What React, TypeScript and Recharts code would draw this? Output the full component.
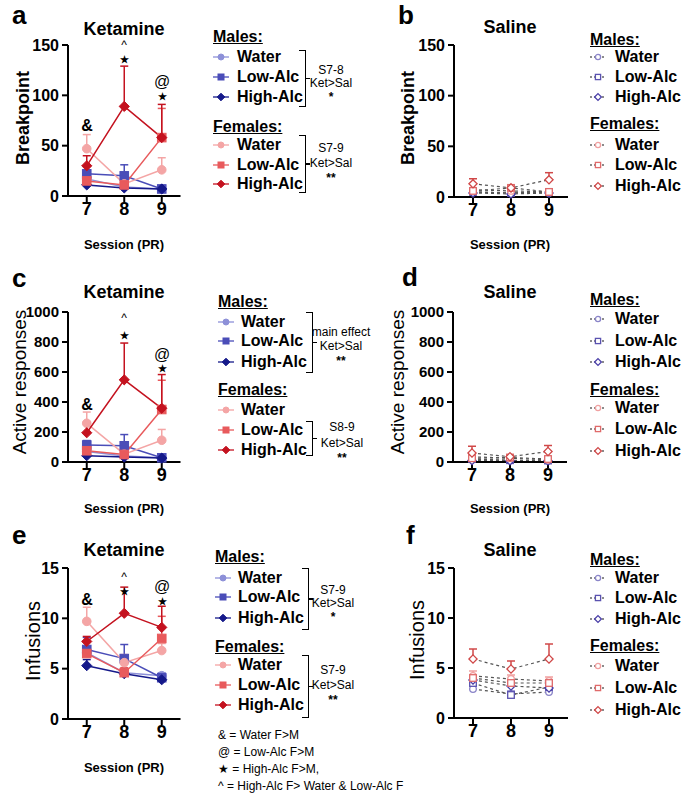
import React from "react";
import { LineChart, Line, XAxis, YAxis, ErrorBar } from "recharts";

const FONT = "'Liberation Sans', Arial, Helvetica, sans-serif";

const sessions = [7, 8, 9];
const groupLabels = ["Water", "Low-Alc", "High-Alc"];

// row order: M Water, M Low-Alc, M High-Alc, F Water, F Low-Alc, F High-Alc
const bpKetMean = [[17, 9, 7], [22, 20, 7], [11, 8, 7], [47, 12, 26], [15, 11, 58], [30, 89, 58]];
const bpKetErr = [[3, 2, 1], [3, 11, 2], [2, 1, 1], [14, 3, 12], [3, 2, 29], [10, 40, 33]];
const bpSalMean = [[5, 4, 4], [5, 4, 5], [4, 3, 4], [7, 6, 5], [6, 9, 5], [13, 9, 17]];
const bpSalErr = [[1, 1, 1], [1, 1, 1], [1, 1, 1], [2, 1, 1], [1, 1, 1], [5, 2, 7]];

const arKetMean = [[70, 40, 28], [113, 108, 28], [42, 33, 26], [258, 52, 145], [75, 50, 350], [195, 548, 358]];
const arKetErr = [[15, 10, 5], [30, 75, 6], [8, 6, 4], [75, 15, 72], [20, 10, 195], [70, 245, 225]];
const arSalMean = [[15, 10, 8], [20, 12, 10], [10, 8, 8], [35, 25, 15], [25, 30, 20], [60, 35, 70]];
const arSalErr = [[8, 5, 4], [8, 5, 4], [5, 4, 4], [10, 6, 5], [8, 6, 5], [45, 10, 40]];

const infKetMean = [[6.6, 4.6, 4.3], [6.9, 6.0, 4.1], [5.3, 4.5, 3.9], [9.7, 5.6, 6.8], [6.5, 4.6, 8.0], [7.7, 10.5, 9.1]];
const infKetErr = [[0.5, 0.3, 0.3], [1.2, 1.4, 0.4], [0.6, 0.4, 0.2], [1.4, 0.8, 0.7], [0.6, 0.5, 2.2], [0.5, 2.6, 2.1]];
const infSalMean = [[2.9, 2.4, 2.6], [3.5, 2.3, 3.1], [3.8, 3.2, 3.0], [4.2, 3.9, 3.7], [4.0, 3.5, 3.5], [5.9, 4.9, 5.9]];
const infSalErr = [[0.3, 0.3, 0.3], [0.3, 0.3, 0.3], [0.3, 0.3, 0.3], [0.5, 0.4, 0.4], [0.3, 0.3, 0.3], [1.0, 0.8, 1.5]];

const seriesKeys = ["mWater", "mLow", "mHigh", "fWater", "fLow", "fHigh"];
const ketColors = ["#8d90d8", "#4a4db8", "#15198a", "#f4a5a5", "#e85a5c", "#c4121f"];
const salColors = ["#8a84c8", "#5a52b0", "#4a3fa8", "#f0a0a0", "#e06a6a", "#d04848"];
const shapes = ["circle", "square", "diamond", "circle", "square", "diamond"];

function buildRows(mean: number[][], err: number[][]) {
  return sessions.map((s, i) => {
    const row: any = { session: s };
    seriesKeys.forEach((k, j) => {
      row[k] = mean[j][i];
      row[k + "Err"] = [0, err[j][i]];
    });
    return row;
  });
}

function Marker({ cx, cy, shape, color, open, size }: any) {
  if (cx == null || cy == null) return null;
  const fill = open ? "#fff" : color;
  const sw = open ? 1.3 : 1;
  if (shape === "circle") return <circle cx={cx} cy={cy} r={size} fill={fill} stroke={color} strokeWidth={sw} />;
  if (shape === "square")
    return <rect x={cx - size} y={cy - size} width={size * 2} height={size * 2} fill={fill} stroke={color} strokeWidth={sw} />;
  const d = size + 0.8;
  return <polygon points={`${cx},${cy - d} ${cx + d},${cy} ${cx},${cy + d} ${cx - d},${cy}`} fill={fill} stroke={color} strokeWidth={sw} />;
}

function Panel({ axisX, topPx, zeroPx, unit, yMax, yTicks, mean, err, saline, tickSize = 16 }: any) {
  const yW = 60, mt = 10, xh = 40, mr = 6;
  const plotH = zeroPx - topPx;
  const rows = buildRows(mean, err);
  const colors = saline ? salColors : ketColors;
  const axisStyle = { stroke: "#000", strokeWidth: 2 };
  return (
    <div style={{ position: "absolute", left: axisX - yW, top: topPx - mt }}>
      <LineChart width={yW + unit * 3 + mr} height={mt + plotH + xh} data={rows} margin={{ top: mt, right: mr, left: 0, bottom: 0 }}>
        <XAxis dataKey="session" type="number" domain={[6.5, 9.5]} ticks={sessions} height={xh}
          axisLine={axisStyle} tickLine={axisStyle} tickSize={6} tickMargin={0}
          tick={{ fill: "#000", fontSize: 18, fontWeight: 700, fontFamily: FONT }} />
        <YAxis domain={[0, yMax]} ticks={yTicks} width={yW} interval={0}
          axisLine={axisStyle} tickLine={axisStyle} tickSize={6} tickMargin={3}
          tick={{ fill: "#000", fontSize: tickSize, fontWeight: 700, fontFamily: FONT }} />
        {seriesKeys.map((k, j) => (
          <Line key={k} dataKey={k} isAnimationActive={false}
            stroke={saline ? "#555" : colors[j]} strokeWidth={saline ? 1.2 : 1.5}
            strokeDasharray={saline ? "3 3" : undefined}
            dot={(p: any) => <Marker key={`${k}-${p.index}`} cx={p.cx} cy={p.cy} shape={shapes[j]} color={colors[j]} open={saline} size={saline ? 3.3 : 4.3} />}
            activeDot={false}>
            <ErrorBar dataKey={k + "Err"} direction="y" width={4} stroke={colors[j]} strokeWidth={1.5} />
          </Line>
        ))}
      </LineChart>
    </div>
  );
}

function Txt({ x, y, children, size = 16, weight = 700, anchor = "center", style = {} }: any) {
  const tx = anchor === "center" ? "-50%" : anchor === "end" ? "-100%" : "0";
  return (
    <div style={{ position: "absolute", left: x, top: y, transform: `translate(${tx}, -50%)`,
      fontSize: size, fontWeight: weight, fontFamily: FONT,
      whiteSpace: "nowrap", lineHeight: 1, color: "#000", ...style }}>
      {children}
    </div>
  );
}

function YLabel({ x, y, children, size, weight }: any) {
  return (
    <div style={{ position: "absolute", left: x, top: y, transform: "translate(-50%, -50%) rotate(-90deg)",
      fontSize: size, fontWeight: weight, fontFamily: FONT, whiteSpace: "nowrap", lineHeight: 1, color: "#000" }}>
      {children}
    </div>
  );
}

function LegendSwatch({ color, shape, saline }: any) {
  return (
    <svg width={16} height={12} style={{ display: "block" }}>
      <line x1={0} y1={6} x2={16} y2={6} stroke={saline ? "#666" : color} strokeWidth={1.3} strokeDasharray={saline ? "2 2" : undefined} />
      <Marker cx={8} cy={6} shape={shape} color={color} open={saline} size={saline ? 2.6 : 3} />
    </svg>
  );
}

function Legend({ left, textLeft, headerY, itemY, saline }: any) {
  const colors = saline ? salColors : ketColors;
  return (
    <>
      <Txt x={left} y={headerY[0]} anchor="start" style={{ textDecoration: "underline" }}>Males:</Txt>
      <Txt x={left} y={headerY[1]} anchor="start" style={{ textDecoration: "underline" }}>Females:</Txt>
      {seriesKeys.map((k, j) => (
        <React.Fragment key={k}>
          <div style={{ position: "absolute", left: left, top: itemY[j] - 6 }}>
            <LegendSwatch color={colors[j]} shape={shapes[j]} saline={saline} />
          </div>
          <Txt x={textLeft} y={itemY[j]} anchor="start">{groupLabels[j % 3]}</Txt>
        </React.Fragment>
      ))}
    </>
  );
}

function Bracket({ x, y1, y2 }: any) {
  return (
    <>
      <div style={{ position: "absolute", left: x - 6, top: y1, width: 7, height: y2 - y1, boxSizing: "border-box",
        borderTop: "1.5px solid #000", borderRight: "1.5px solid #000", borderBottom: "1.5px solid #000" }} />
      <div style={{ position: "absolute", left: x + 1, top: (y1 + y2) / 2 - 0.75, width: 4, height: 1.5, background: "#000" }} />
    </>
  );
}

function Stat({ x, ys, lines }: any) {
  return (
    <>
      {lines.map((t: string, i: number) => (
        <Txt key={i} x={x} y={ys[i]} size={12} weight={i === 2 ? 700 : 400}>{t}</Txt>
      ))}
    </>
  );
}

function Marks({ ys }: any) {
  // & above session 7, ^/★ above 8, @/★ above 9
  return (
    <>
      <Txt x={87} y={ys[0]} size={16}>&amp;</Txt>
      <Txt x={124} y={ys[1]} size={12} weight={400}>^</Txt>
      <Txt x={124} y={ys[2]} size={10}>★</Txt>
      <Txt x={162} y={ys[3]} size={16} weight={400}>@</Txt>
      <Txt x={162} y={ys[4]} size={10}>★</Txt>
    </>
  );
}

export default function App() {
  return (
    <div style={{ position: "relative", width: 682, height: 795, background: "#fff", overflow: "hidden" }}>
      <style>{"body{margin:0}"}</style>

      {/* letters */}
      <Txt x={12} y={15} size={26} anchor="start">a</Txt>
      <Txt x={398} y={15} size={26} anchor="start">b</Txt>
      <Txt x={12} y={278} size={26} anchor="start">c</Txt>
      <Txt x={402} y={277} size={26} anchor="start">d</Txt>
      <Txt x={12} y={535} size={26} anchor="start">e</Txt>
      <Txt x={406} y={535} size={26} anchor="start">f</Txt>

      {/* titles */}
      <Txt x={124} y={29} size={18}>Ketamine</Txt>
      <Txt x={510} y={27} size={18}>Saline</Txt>
      <Txt x={124} y={292} size={18}>Ketamine</Txt>
      <Txt x={510} y={292} size={18}>Saline</Txt>
      <Txt x={124} y={550} size={18}>Ketamine</Txt>
      <Txt x={510} y={550} size={18}>Saline</Txt>

      {/* y labels */}
      <YLabel x={23} y={118} size={18} weight={700}>Breakpoint</YLabel>
      <YLabel x={408} y={118} size={18} weight={700}>Breakpoint</YLabel>
      <YLabel x={19} y={382} size={19} weight={400}>Active responses</YLabel>
      <YLabel x={397} y={382} size={19} weight={400}>Active responses</YLabel>
      <YLabel x={33} y={641} size={20} weight={400}>Infusions</YLabel>
      <YLabel x={417} y={640} size={20} weight={400}>Infusions</YLabel>

      {/* x labels */}
      <Txt x={124} y={244} size={13}>Session (PR)</Txt>
      <Txt x={510} y={244} size={13}>Session (PR)</Txt>
      <Txt x={124} y={508} size={13}>Session (PR)</Txt>
      <Txt x={510} y={508} size={13}>Session (PR)</Txt>
      <Txt x={124} y={767} size={13}>Session (PR)</Txt>

      <Panel axisX={68} topPx={45} zeroPx={196} unit={37.5} yMax={150} yTicks={[0, 50, 100, 150]} mean={bpKetMean} err={bpKetErr} />
      <Panel axisX={454} topPx={45} zeroPx={197} unit={38} yMax={150} yTicks={[0, 50, 100, 150]} mean={bpSalMean} err={bpSalErr} saline />
      <Panel axisX={68} topPx={312} zeroPx={462} unit={37.5} yMax={1000} yTicks={[0, 200, 400, 600, 800, 1000]} mean={arKetMean} err={arKetErr} tickSize={15} />
      <Panel axisX={453} topPx={312} zeroPx={462} unit={38} yMax={1000} yTicks={[0, 200, 400, 600, 800, 1000]} mean={arSalMean} err={arSalErr} saline tickSize={15} />
      <Panel axisX={68} topPx={568} zeroPx={719} unit={37.5} yMax={15} yTicks={[0, 5, 10, 15]} mean={infKetMean} err={infKetErr} />
      <Panel axisX={454} topPx={568} zeroPx={718} unit={38} yMax={15} yTicks={[0, 5, 10, 15]} mean={infSalMean} err={infSalErr} saline />

      <Marks ys={[126, 45, 60, 82, 97]} />
      <Marks ys={[405, 318, 336, 355, 369]} />
      <Marks ys={[600, 577, 592, 587, 602]} />

      {/* legends */}
      <Legend left={213} textLeft={237} headerY={[37, 127]} itemY={[57, 77, 97, 145, 165, 184]} />
      <Bracket x={305} y1={50} y2={107} />
      <Stat x={331} ys={[70, 83, 97]} lines={["S7-8", "Ket>Sal", "*"]} />
      <Bracket x={305} y1={135} y2={193} />
      <Stat x={331} ys={[148, 163, 178]} lines={["S7-9", "Ket>Sal", "**"]} />

      <Legend left={590} textLeft={615} headerY={[40, 124]} itemY={[57, 77, 97, 145, 165, 186]} saline />

      <Legend left={218} textLeft={241} headerY={[302, 390]} itemY={[322, 341, 362, 410, 430, 450]} />
      <Bracket x={312} y1={312} y2={373} />
      <Stat x={341} ys={[332, 346, 361]} lines={["main effect", "Ket>Sal", "**"]} />
      <Bracket x={312} y1={421} y2={456} />
      <Stat x={342} ys={[427, 443, 458]} lines={["S8-9", "Ket>Sal", "**"]} />

      <Legend left={590} textLeft={615} headerY={[300, 390]} itemY={[319, 341, 362, 408, 429, 451]} saline />

      <Legend left={215} textLeft={238} headerY={[557, 647]} itemY={[578, 597, 618, 665, 685, 705]} />
      <Bracket x={308} y1={568} y2={630} />
      <Stat x={333} ys={[590, 603, 617]} lines={["S7-9", "Ket>Sal", "*"]} />
      <Bracket x={308} y1={655} y2={718} />
      <Stat x={333} ys={[670, 685, 700]} lines={["S7-9", "Ket>Sal", "**"]} />

      <Legend left={590} textLeft={615} headerY={[560, 646]} itemY={[578, 598, 619, 666, 688, 710]} saline />

      {/* footnotes */}
      <Txt x={218} y={735} size={12} weight={400} anchor="start">&amp; = Water F&gt;M</Txt>
      <Txt x={218} y={752} size={12} weight={400} anchor="start">@ = Low-Alc F&gt;M</Txt>
      <Txt x={218} y={769} size={12} weight={400} anchor="start">★ = High-Alc F&gt;M,</Txt>
      <Txt x={218} y={786} size={12} weight={400} anchor="start">^ = High-Alc F&gt; Water &amp; Low-Alc F</Txt>
    </div>
  );
}
